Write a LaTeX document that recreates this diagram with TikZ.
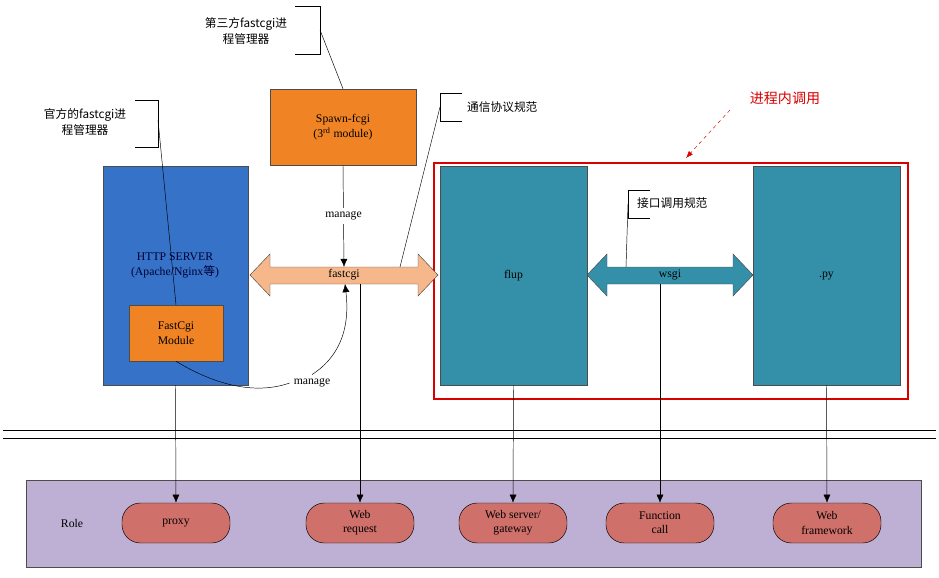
\documentclass[tikz,border=0pt]{standalone}
\usepackage{fontspec}
\setmainfont{Liberation Serif}
\newfontfamily\cjk{Noto Sans CJK SC}
\usetikzlibrary{arrows.meta}
\definecolor{srvblue}{HTML}{3572C8}
\definecolor{modorange}{HTML}{F08424}
\definecolor{flupteal}{HTML}{3490A8}
\definecolor{peach}{HTML}{F6B88A}
\definecolor{rolebg}{HTML}{BDB0D4}
\definecolor{pillred}{HTML}{D0706A}
\tikzset{
  box/.style={draw=black!70, rectangle, align=center, font=\fontsize{10}{13}\selectfont},
  pill/.style={draw=black, fill=pillred, rounded corners=0.55cm, minimum width=3.24cm, minimum height=1.2cm, align=center, font=\fontsize{10}{12}\selectfont, inner sep=1pt},
  note/.style={align=center, font=\cjk\fontsize{10}{13}\selectfont},
  role/.style={-{Latex[length=7pt,width=6pt]}, black}
}
\begin{document}
\begin{tikzpicture}[x=0.03cm, y=-0.03cm]
    \useasboundingbox (0,0) rectangle (939,577);
    % Top row boxes
    \node[box, fill=srvblue, minimum width=4.35cm, minimum height=6.57cm, text=black!80!blue] (http) at (175.5,275.5) {};
    \node[font=\fontsize{10}{13}\selectfont, align=center, text=black!80!blue] (http-label) at (175,265) {HTTP SERVER\\(Apache/Nginx{\cjk 等})};
    \node[box, fill=modorange, minimum width=2.82cm, minimum height=1.68cm] (fcgimod) at (176,333) {FastCgi\\Module};
    \node[box, fill=modorange, minimum width=4.38cm, minimum height=2.28cm] (spawn) at (343,127) {Spawn-fcgi\\(3\textsuperscript{rd} module)};
    \node[box, fill=flupteal, minimum width=4.41cm, minimum height=6.57cm] (flup) at (513.5,275.5) {flup};
    \node[box, fill=flupteal, minimum width=4.41cm, minimum height=6.57cm] (py) at (826.5,275.5) {.py};
    \draw[red!85!black, line width=1.6pt] (434,163) rectangle (908,399);

    % Double arrows
    \draw[black!70, fill=peach] (250,275) -- (270,254) -- (270,267) -- (418,267) -- (418,254) -- (438,275)
        -- (418,296) -- (418,284) -- (270,284) -- (270,296) -- cycle;
    \node[font=\fontsize{10}{12}\selectfont] (fcgi) at (344,275) {fastcgi};
    \draw[black!70, fill=flupteal] (587,275) -- (607,254) -- (607,267) -- (733,267) -- (733,254) -- (753,275)
        -- (733,296) -- (733,284) -- (607,284) -- (607,296) -- cycle;
    \node[font=\fontsize{10}{12}\selectfont] (wsgi) at (670,275) {wsgi};

    % manage arrows
    \draw[role] (spawn.south) -- (344,267) node[pos=0.5, fill=white, font=\fontsize{10}{12}\selectfont] (manage1) {manage};
    \node[font=\fontsize{10}{12}\selectfont] (manage2) at (312,383) {manage};
    \draw (fcgimod.south) .. controls (215,385) and (255,395) .. (manage2.west);
    \draw[role] (manage2.north) .. controls (350,350) and (348,310) .. (345,284);

    % Notes
    \node[note] (note1) at (246,31) {第三方fastcgi进\\程管理器};
    \draw (295,6) -- (320,6) -- (320,54) -- (295,54);
    \draw (320,30) -- (spawn.north);
    \node[note] (note2) at (85,122) {官方的fastcgi进\\程管理器};
    \draw (135,100) -- (158,100) -- (158,147) -- (135,147);
    \draw (158,120) -- (fcgimod.north);
    \node[note, anchor=west] (note3) at (463,107) {通信协议规范};
    \draw (462,93) -- (440,93) -- (440,121) -- (462,121);
    \draw (440,107) -- (400,267);
    \node[note, anchor=west] (note4) at (633,203) {接口调用规范};
    \draw (650,190) -- (628,190) -- (628,218) -- (650,218);
    \draw (628,204) -- (626,267);
    \node[note, text=red!85!black, font=\cjk\fontsize{12}{14}\selectfont] (inproc) at (785,98) {进程内调用};
    \draw[-{Latex[length=6pt]}, red!85!black, dashed] (730,110) -- (686,158);

    % Separator
    \draw (3,430) -- (936,430);
    \draw (3,438) -- (936,438);

    % Role bar
    \draw[black!70, fill=rolebg] (26,480) rectangle (921,567);
    \node[font=\fontsize{10}{12}\selectfont] (rolelabel) at (72,523) {Role};
    \node[pill] (proxy) at (176,523) {proxy};
    \node[pill] (webreq) at (360,523) {Web\\request};
    \node[pill] (gateway) at (513,523) {Web server/\\gateway};
    \node[pill] (funcall) at (660,523) {Function\\call};
    \node[pill] (framework) at (827,523) {Web\\framework};

    \draw[role] (http.south) -- (proxy.north);
    \draw[role] (360,284) -- (webreq.north);
    \draw[role] (flup.south) -- (gateway.north);
    \draw[role] (660,284) -- (funcall.north);
    \draw[role] (py.south) -- (framework.north);
\end{tikzpicture}
\end{document}
